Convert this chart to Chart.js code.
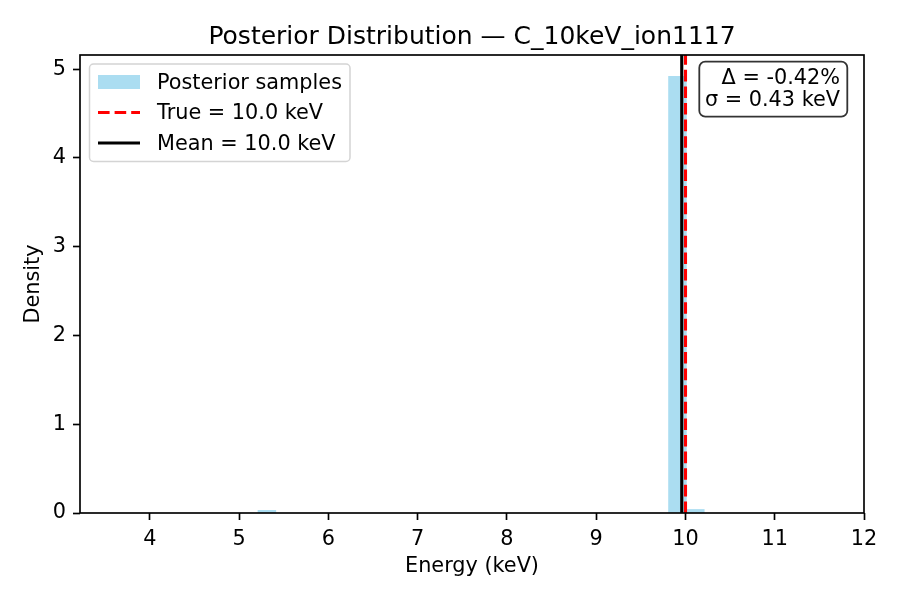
<!DOCTYPE html>
<html>
<head>
<meta charset="utf-8">
<script src="https://cdn.jsdelivr.net/npm/chart.js@4.4.1/dist/chart.umd.min.js"></script>
<style>
  html, body { margin: 0; padding: 0; background: #fff; }
  #wrap { width: 900px; height: 600px; }
</style>
</head>
<body>
<div id="wrap"><canvas id="posteriorChart" width="900" height="600"></canvas></div>
<script>
// histogram of posterior samples (density, bin width ~0.2 keV)
const binCenters = [5.31, 9.91, 10.11];
const density = [0.03, 4.92, 0.04];

const trueEnergy = 10.0;
const meanEnergy = 9.958;

const xTicks = [4, 5, 6, 7, 8, 9, 10, 11, 12];
const yTicks = [0, 1, 2, 3, 4, 5];
const xRange = [3.216, 12.0];
const yRange = [0, 5.16];

const titleText = "Posterior Distribution — C_10keV_ion1117";
const legendLabels = ["Posterior samples", "True = 10.0 keV", "Mean = 10.0 keV"];
const statLines = ["Δ = -0.42%", "σ = 0.43 keV"];

const FONT = "DejaVu Sans";
const barColor = "rgba(135,206,235,0.7)";

const overlay = {
  id: "overlay",
  afterDatasetsDraw(chart) {
    const { ctx, chartArea: a } = chart;
    ctx.save();
    ctx.strokeStyle = "#000";
    ctx.lineWidth = 1.67;
    ctx.strokeRect(a.left, a.top, a.right - a.left, a.bottom - a.top);
    ctx.restore();
  },
  afterDraw(chart) {
    const { ctx, chartArea: a } = chart;
    ctx.save();
    // title
    ctx.fillStyle = "#000";
    ctx.font = "25px '" + FONT + "'";
    ctx.textAlign = "center";
    ctx.textBaseline = "alphabetic";
    ctx.fillText(titleText, (a.left + a.right) / 2, a.top - 11.5);

    // legend
    const lx = a.left + 9.5, ly = a.top + 9;
    ctx.beginPath();
    ctx.roundRect(lx, ly, 260.5, 97.5, 4);
    ctx.fillStyle = "rgba(255,255,255,0.8)";
    ctx.fill();
    ctx.strokeStyle = "#d4d4d4";
    ctx.lineWidth = 1.5;
    ctx.stroke();

    const rows = [a.top + 27, a.top + 57.5, a.top + 88];
    const hx0 = a.left + 18, hx1 = a.left + 60;
    ctx.fillStyle = barColor;
    ctx.fillRect(hx0, rows[0] - 7, hx1 - hx0, 14);

    ctx.lineWidth = 3.1;
    ctx.strokeStyle = "red";
    ctx.setLineDash([11.6, 5]);
    ctx.beginPath();
    ctx.moveTo(hx0, rows[1]);
    ctx.lineTo(hx1, rows[1]);
    ctx.stroke();

    ctx.setLineDash([]);
    ctx.strokeStyle = "#000";
    ctx.beginPath();
    ctx.moveTo(hx0, rows[2]);
    ctx.lineTo(hx1, rows[2]);
    ctx.stroke();

    ctx.fillStyle = "#000";
    ctx.font = "20.8px '" + FONT + "'";
    ctx.textAlign = "left";
    ctx.textBaseline = "middle";
    legendLabels.forEach((t, i) => ctx.fillText(t, a.left + 77, rows[i] + 1.5));

    // stats box
    ctx.beginPath();
    ctx.roundRect(a.right - 164.7, a.top + 6.7, 148, 55, 6);
    ctx.fillStyle = "rgba(255,255,255,0.8)";
    ctx.fill();
    ctx.strokeStyle = "rgba(0,0,0,0.8)";
    ctx.lineWidth = 1.8;
    ctx.stroke();

    ctx.fillStyle = "#000";
    ctx.textAlign = "right";
    ctx.fillText(statLines[0], a.right - 24, a.top + 23.5);
    ctx.fillText(statLines[1], a.right - 24, a.top + 45.5);
    ctx.restore();
  }
};

const axisTicks = (vals) => (scale) => {
  scale.ticks = vals.map((v) => ({ value: v }));
};

new Chart(document.getElementById("posteriorChart"), {
  type: "bar",
  data: {
    datasets: [
      {
        type: "line",
        data: [{ x: meanEnergy, y: yRange[0] }, { x: meanEnergy, y: yRange[1] }],
        borderColor: "#000",
        borderWidth: 3.1,
        pointRadius: 0,
        fill: false,
        order: 0,
      },
      {
        type: "line",
        data: [{ x: trueEnergy, y: yRange[0] }, { x: trueEnergy, y: yRange[1] }],
        borderColor: "red",
        borderWidth: 3.1,
        borderDash: [11.6, 5],
        pointRadius: 0,
        fill: false,
        order: 1,
      },
      {
        type: "bar",
        data: binCenters.map((c, i) => ({ x: c, y: density[i] })),
        backgroundColor: barColor,
        borderWidth: 0,
        barPercentage: 1,
        categoryPercentage: 1,
        order: 2,
      },
    ],
  },
  options: {
    responsive: false,
    animation: false,
    layout: {
      padding: { top: 55, right: 36, left: 0, bottom: 0 },
    },
    scales: {
      x: {
        type: "linear",
        min: xRange[0],
        max: xRange[1],
        offset: false,
        afterBuildTicks: axisTicks(xTicks),
        afterFit(scale) {
          scale.height = 87;
        },
        border: { display: false },
        grid: {
          offset: false,
          drawOnChartArea: false,
          drawTicks: true,
          tickLength: 7,
          tickWidth: 1.67,
          tickColor: "#000",
        },
        ticks: {
          color: "#000",
          padding: 7,
          maxRotation: 0,
          font: { family: FONT, size: 20.8 },
        },
        title: {
          display: true,
          text: "Energy (keV)",
          color: "#000",
          font: { family: FONT, size: 20.8, lineHeight: 1.2 },
          padding: { top: 0, bottom: 20.5 },
        },
      },
      y: {
        type: "linear",
        min: yRange[0],
        max: yRange[1],
        afterBuildTicks: axisTicks(yTicks),
        afterFit(scale) {
          scale.width = 80;
        },
        border: { display: false },
        grid: {
          drawOnChartArea: false,
          drawTicks: true,
          tickLength: 7,
          tickWidth: 1.67,
          tickColor: "#000",
        },
        ticks: {
          color: "#000",
          padding: 7,
          font: { family: FONT, size: 20.8 },
        },
        title: {
          display: true,
          text: "Density",
          color: "#000",
          font: { family: FONT, size: 20.8, lineHeight: 1.2 },
          padding: { top: 21.5, bottom: 0 },
        },
      },
    },
    plugins: {
      legend: { display: false },
      tooltip: { enabled: false },
    },
  },
  plugins: [overlay],
});
</script>
</body>
</html>
